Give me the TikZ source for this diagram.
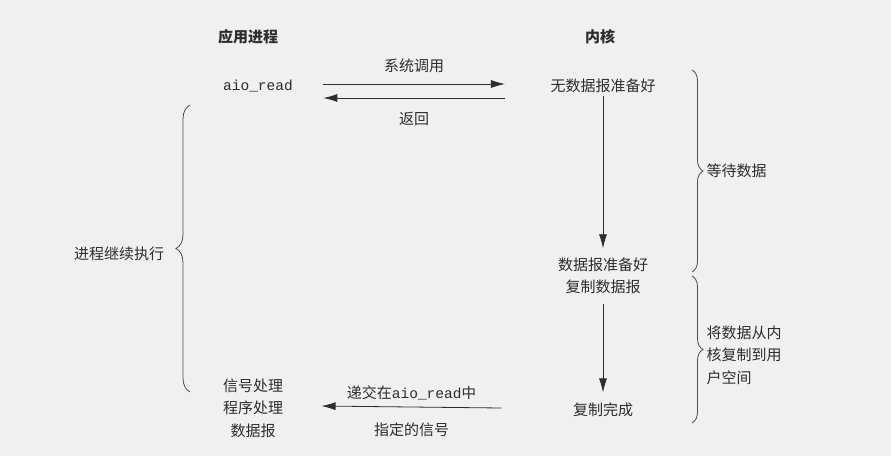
\documentclass[tikz,border=0pt]{standalone}
\usepackage{fontspec}
\setmainfont{Noto Sans CJK SC}
\setmonofont{Liberation Mono}
\usetikzlibrary{arrows.meta,decorations.pathreplacing}
\definecolor{bg}{RGB}{240,240,240}
\definecolor{ink}{RGB}{45,45,45}
\begin{document}
\begin{tikzpicture}[x=1pt,y=-1pt,
    every node/.style={text=ink,font=\fontsize{15}{22.5}\selectfont},
    arr/.style={thick,draw=ink,-{Latex[length=14pt,width=8pt]}},
    brc/.style={thick,draw=ink!85,decorate,decoration={brace,amplitude=#1}}]
    \fill[bg] (0,0) rectangle (891,456);
    % column titles
    \node (app) at (248,37) {\bfseries 应用进程};
    \node (kern) at (600,37) {\bfseries 内核};
    % process side
    \node (aio) at (258,86) {\fontsize{14.5}{17}\ttfamily aio\_read};
    \node[align=center] (sig) at (253,408) {信号处理\\程序处理\\数据报};
    % kernel side
    \node (nodata) at (603,86) {无数据报准备好};
    \node[align=center] (ready) at (603,276) {数据报准备好\\复制数据报};
    \node (done) at (603,410) {复制完成};
    % system call and return
    \draw[arr] ([xshift=27pt,yshift=2pt]aio.east) -- node[above=7pt] {系统调用} ([xshift=-42pt,yshift=2pt]nodata.west);
    \draw[arr] ([xshift=-42pt,yshift=-12pt]nodata.west) -- node[below=10pt] {返回} ([xshift=27pt,yshift=-12pt]aio.east);
    % kernel steps
    \draw[arr,shorten >=6pt] (nodata) -- (ready);
    \draw[arr,shorten <=6pt,shorten >=7pt] (ready) -- (done);
    % signal delivery
    \draw[arr] ([xshift=-68pt,yshift=2pt]done.west) -- node[above=3pt] {递交在\fontsize{14.5}{17}\ttfamily aio\_read\rmfamily 中} node[below=12pt] {指定的信号} ([xshift=35pt,yshift=2pt]sig.east);
    % braces
    \coordinate (w1) at (692,70);
    \coordinate (w2) at (692,272);
    \coordinate (c1) at (692,276);
    \coordinate (c2) at (692,423);
    \coordinate (p1) at (190,105);
    \coordinate (p2) at (190,392);
    \draw[brc=11pt] (w1) -- (w2);
    \draw[brc=11pt] (c1) -- (c2);
    \draw[brc=14pt] (p2) -- (p1);
    \node[anchor=west] (wait) at (703,171) {等待数据};
    \node[anchor=west,align=left] (copy) at (703,355) {将数据从内\\核复制到用\\户空间};
    \node (cont) at (119,254) {进程继续执行};
\end{tikzpicture}
\end{document}
